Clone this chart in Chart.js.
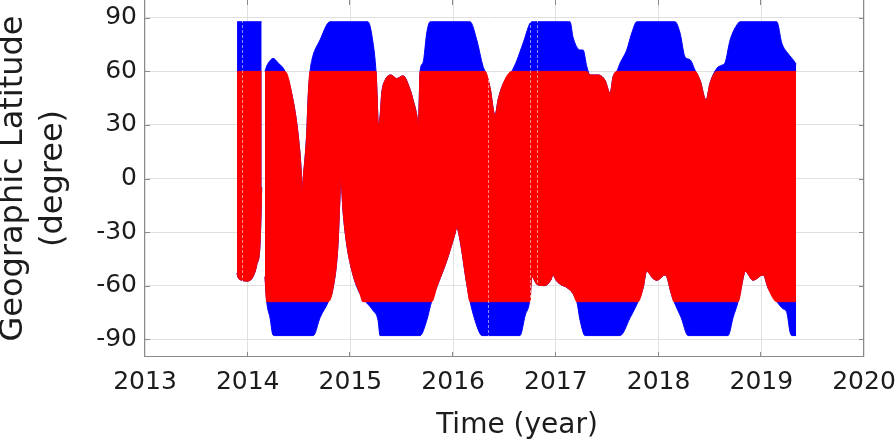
<!DOCTYPE html>
<html>
<head>
<meta charset="utf-8">
<script src="https://cdn.jsdelivr.net/npm/chart.js@4/dist/chart.umd.min.js"></script>
<style>
html,body{margin:0;padding:0;background:#fff;}
#wrap{width:896px;height:448px;position:relative;}
</style>
</head>
<body>
<div id="wrap"><canvas id="c" width="896" height="448"></canvas></div>
<script>
// ---- tick labels ----
const yearTicks = [2013, 2014, 2015, 2016, 2017, 2018, 2019, 2020];
const latTicks = [-90, -60, -30, 0, 30, 60, 90];

// ---- envelopes: [time (year), latitude (deg)] ----
// all-latitude coverage (blue), upper and lower edge
const blueUpper = [[2014.168,60],[2014.185,63],[2014.217,66],[2014.246,67.3],[2014.300,64.5],[2014.363,60],[2014.441,44],[2014.490,25],[2014.520,5],[2014.529,-7],[2014.538,-1],[2014.574,25],[2014.587,44],[2014.607,60],[2014.623,66],[2014.704,77.6],[2014.801,87.8],[2015.171,87.8],[2015.220,76],[2015.249,60],[2015.259,48],[2015.272,30],[2015.288,34.5],[2015.305,47.8],[2015.337,55],[2015.395,58],[2015.450,56],[2015.512,57.5],[2015.580,50],[2015.610,44],[2015.646,35.5],[2015.661,29],[2015.668,40],[2015.678,60],[2015.707,65],[2015.743,81.5],[2015.775,87.8],[2016.165,87.8],[2016.230,77.6],[2016.291,62.8],[2016.311,60],[2016.359,51],[2016.408,35.5],[2016.437,44],[2016.486,53],[2016.571,60],[2016.619,66],[2016.681,75.8],[2016.765,87.8],[2017.138,87.8],[2017.168,79],[2017.236,72],[2017.265,72],[2017.301,62.8],[2017.333,58],[2017.411,58],[2017.479,55],[2017.528,47.8],[2017.557,57],[2017.593,60],[2017.625,64.6],[2017.690,72],[2017.739,81.5],[2017.788,87.8],[2018.161,87.8],[2018.209,81.5],[2018.258,68],[2018.307,66.5],[2018.355,60.7],[2018.404,55],[2018.462,44],[2018.501,53.5],[2018.567,61.7],[2018.615,63.5],[2018.647,64.9],[2018.696,77.5],[2018.774,87],[2018.794,87.8],[2019.151,87.8],[2019.200,75.8],[2019.261,70],[2019.329,65],[2019.339,64]];
const blueLower = [[2014.168,-55],[2014.185,-69],[2014.217,-78],[2014.246,-87.7],[2014.260,-88],[2014.639,-88],[2014.704,-78],[2014.785,-69],[2014.831,-61.5],[2014.879,-37],[2014.899,-9.5],[2014.906,0],[2014.928,-18.5],[2014.964,-37],[2015.025,-54],[2015.093,-64.6],[2015.220,-74],[2015.269,-79.5],[2015.288,-88],[2015.678,-88],[2015.743,-79.5],[2015.792,-68.5],[2015.840,-61],[2015.938,-46],[2016.018,-31],[2016.035,-27.5],[2016.067,-34.6],[2016.132,-59],[2016.165,-69],[2016.213,-79.5],[2016.262,-87],[2016.279,-88],[2016.651,-88],[2016.700,-77],[2016.749,-67],[2016.765,-55],[2016.820,-59.5],[2016.890,-60],[2016.950,-57],[2016.973,-54],[2017.002,-57],[2017.050,-59.5],[2017.106,-61],[2017.168,-64.6],[2017.204,-69],[2017.236,-79.5],[2017.284,-88],[2017.625,-88],[2017.723,-78],[2017.800,-69],[2017.849,-61.5],[2017.884,-52],[2017.946,-56],[2017.985,-57],[2018.063,-54],[2018.080,-55],[2018.121,-64],[2018.151,-69],[2018.220,-78],[2018.287,-88],[2018.677,-88],[2018.725,-78],[2018.774,-69],[2018.823,-56],[2018.842,-52],[2018.920,-57],[2019.018,-54],[2019.067,-61.5],[2019.151,-69],[2019.212,-73],[2019.248,-75],[2019.280,-86],[2019.297,-88],[2019.339,-88]];
// restricted-latitude coverage (red), upper and lower edge
const redUpper = [[2014.168,60],[2014.363,60],[2014.441,44],[2014.490,25],[2014.520,5],[2014.529,-7],[2014.538,-1],[2014.574,25],[2014.587,44],[2014.607,60],[2015.249,60],[2015.259,48],[2015.272,30],[2015.288,34.5],[2015.305,47.8],[2015.337,55],[2015.395,58],[2015.450,56],[2015.512,57.5],[2015.580,50],[2015.610,44],[2015.646,35.5],[2015.661,29],[2015.668,40],[2015.678,60],[2016.311,60],[2016.359,51],[2016.408,35.5],[2016.437,44],[2016.486,53],[2016.571,60],[2017.301,60],[2017.333,58],[2017.411,58],[2017.479,55],[2017.528,47.8],[2017.557,57],[2017.593,60],[2018.355,60],[2018.404,55],[2018.462,44],[2018.501,53.5],[2018.567,60],[2019.339,60]];
const redLower = [[2014.168,-55],[2014.185,-69],[2014.785,-69],[2014.831,-61.5],[2014.879,-37],[2014.899,-9.5],[2014.906,0],[2014.928,-18.5],[2014.964,-37],[2015.025,-54],[2015.093,-64.6],[2015.120,-69],[2015.792,-69],[2015.840,-61],[2015.938,-46],[2016.018,-31],[2016.035,-27.5],[2016.067,-34.6],[2016.132,-59],[2016.165,-69],[2016.749,-69],[2016.765,-55],[2016.820,-59.5],[2016.890,-60],[2016.950,-57],[2016.973,-54],[2017.002,-57],[2017.050,-59.5],[2017.106,-61],[2017.168,-64.6],[2017.204,-69],[2017.800,-69],[2017.849,-61.5],[2017.884,-52],[2017.946,-56],[2017.985,-57],[2018.063,-54],[2018.080,-55],[2018.121,-64],[2018.151,-69],[2018.774,-69],[2018.823,-56],[2018.842,-52],[2018.920,-57],[2019.018,-54],[2019.067,-61.5],[2019.151,-69],[2019.339,-69]];
// first short block (late 2013 - early 2014)
const blueUpper1 = [[2013.896,87.8],[2014.136,87.8]];
const blueLower1 = [[2013.896,-53],[2013.903,-55],[2013.942,-57],[2013.990,-57.5],[2014.052,-55],[2014.088,-48.5],[2014.120,-37],[2014.131,-18],[2014.136,-5]];
const redUpper1 = [[2013.896,60],[2014.136,60]];
const redLower1 = [[2013.896,-53],[2013.903,-55],[2013.942,-57],[2013.990,-57.5],[2014.052,-55],[2014.088,-48.5],[2014.120,-37],[2014.131,-18],[2014.136,-5]];
// short data gaps (no samples) seen as thin white lines
const gapTimes = [2013.942, 2016.343, 2016.749, 2016.817];

const BLUE = '#0000ff';
const RED = '#ff0000';
const FONT = 'DejaVu Sans';
const AXIS = '#8a8a8a';
const TEXT = '#1c1c1c';

const toXY = a => a.map(([x, y]) => ({x, y}));
function band(data, color, fill, order) {
  return {
    data: toXY(data), fill: fill, backgroundColor: color, borderColor: color,
    borderWidth: 1, pointRadius: 0, pointHoverRadius: 0,
    cubicInterpolationMode: 'monotone', order: order
  };
}

const gapPlugin = {
  id: 'gaps',
  afterDatasetsDraw(chart) {
    const {ctx, chartArea: a, scales: {x}} = chart;
    ctx.save();
    ctx.strokeStyle = 'rgba(255,255,255,0.55)';
    ctx.lineWidth = 1;
    ctx.setLineDash([3, 2]);
    ctx.beginPath();
    gapTimes.forEach(t => {
      const px = Math.round(x.getPixelForValue(t)) + 0.5;
      ctx.moveTo(px, a.top); ctx.lineTo(px, a.bottom);
    });
    ctx.stroke();
    ctx.restore();
  }
};

const boxPlugin = {
  id: 'boxTicks',
  afterDraw(chart) {
    const {ctx, chartArea: a, scales: {x, y}} = chart;
    ctx.save();
    ctx.strokeStyle = AXIS;
    ctx.lineWidth = 1;
    ctx.beginPath();
    // left, bottom, right edges of the box
    ctx.moveTo(a.left - 0.5, a.top); ctx.lineTo(a.left - 0.5, a.bottom - 0.5);
    ctx.lineTo(a.right - 0.5, a.bottom - 0.5); ctx.lineTo(a.right - 0.5, a.top);
    const L = 5;
    yearTicks.forEach(v => {
      const px = Math.round(x.getPixelForValue(v)) - 0.5;
      ctx.moveTo(px, a.bottom); ctx.lineTo(px, a.bottom - L);
      ctx.moveTo(px, a.top); ctx.lineTo(px, a.top + L);
    });
    latTicks.forEach(v => {
      const py = Math.round(y.getPixelForValue(v)) + 0.5;
      ctx.moveTo(a.left, py); ctx.lineTo(a.left + L, py);
      ctx.moveTo(a.right, py); ctx.lineTo(a.right - L, py);
    });
    ctx.stroke();
    // x-axis title
    ctx.fillStyle = TEXT;
    ctx.font = '28px "' + FONT + '"';
    ctx.textAlign = 'center';
    ctx.textBaseline = 'middle';
    ctx.fillText('Time (year)', 517, 426);
    ctx.restore();
  }
};

new Chart(document.getElementById('c'), {
  type: 'line',
  data: {
    datasets: [
      band(redUpper, RED, 1, 0),
      band(redLower, RED, false, 0),
      band(redUpper1, RED, 3, 0),
      band(redLower1, RED, false, 0),
      band(blueUpper, BLUE, 5, 1),
      band(blueLower, BLUE, false, 1),
      band(blueUpper1, BLUE, 7, 1),
      band(blueLower1, BLUE, false, 1)
    ]
  },
  options: {
    responsive: false,
    devicePixelRatio: 1,
    animation: false,
    events: [],
    layout: {padding: {left: 0, right: 32, top: 0, bottom: 0}},
    plugins: {legend: {display: false}, tooltip: {enabled: false}},
    scales: {
      x: {
        type: 'linear', min: 2013, max: 2020,
        afterBuildTicks: s => { s.ticks = yearTicks.map(v => ({value: v})); },
        afterFit: s => { s.height = 91; s.paddingLeft = 0; s.paddingRight = 0; },
        ticks: {callback: v => String(v), font: {family: FONT, size: 25}, color: TEXT, padding: 10, maxRotation: 0, autoSkip: false},
        grid: {color: '#e0e0e0', drawTicks: false},
        border: {display: false},
        title: {display: false}
      },
      y: {
        min: -100, max: 100,
        afterBuildTicks: s => { s.ticks = latTicks.map(v => ({value: v})); },
        afterFit: s => { s.width = 145; s.paddingTop = 0; s.paddingBottom = 0; },
        ticks: {callback: v => String(v), font: {family: FONT, size: 25}, color: TEXT, padding: 8, autoSkip: false},
        grid: {color: '#e0e0e0', drawTicks: false},
        border: {display: false},
        title: {display: true, text: ['Geographic Latitude', '(degree)'], font: {family: FONT, size: 32, lineHeight: 1.25}, color: TEXT, padding: {top: -6, bottom: 0}}
      }
    }
  },
  plugins: [gapPlugin, boxPlugin]
});
</script>
</body>
</html>
